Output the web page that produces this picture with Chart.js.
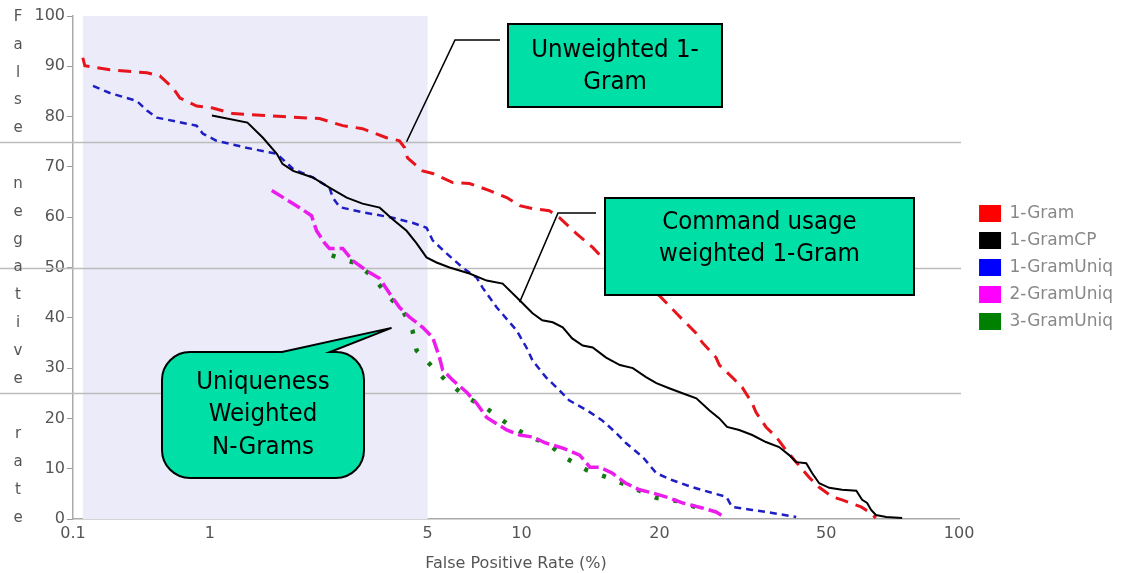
<!DOCTYPE html>
<html>
<head>
<meta charset="utf-8">
<script src="https://cdn.jsdelivr.net/npm/chart.js@4.4.0/dist/chart.umd.min.js"></script>
<style>
  html, body { margin: 0; padding: 0; background: #fff; }
  #wrap { width: 1133px; height: 573px; position: relative; }
</style>
</head>
<body>
<div id="wrap"><canvas id="main-chart"></canvas></div>
<script>
// x axis: the tick values and where each one sits along the axis (0 = left, 1 = right)
const xTicks = [0.1, 1, 5, 10, 20, 50, 100];
const xTickPos = [0, 0.1545, 0.4002, 0.5062, 0.6618, 0.8501, 1];
const refLines = [25, 50, 75];
const shadeRange = [0.118, 5];

const seriesNames = ['1-Gram', '1-GramCP', '1-GramUniq', '2-GramUniq', '3-GramUniq'];

// false positive rate (%) / false negative rate (%) for each curve
const fpr1Gram = [0.118, 0.122, 0.186, 0.347, 0.431, 0.537, 0.604, 0.80, 1.02, 1.185, 1.714, 2.25, 2.67, 3.09, 3.69,
  4.06, 4.22, 4.31, 4.82, 5.19, 6.02, 6.81, 7.90, 8.96, 9.86, 10.57, 11.5, 12.1, 13.2, 14.3, 15.2, 17.2, 20.0, 21.96,
  24.5, 25.3, 27.3, 27.8, 29.8, 31.5, 33.3, 34.0, 35.9, 38.0, 40.1, 42.4, 45.5, 48.1, 51.6, 54.3, 60.0, 62.5, 64.8];
const fnr1Gram = [91.7, 90.1, 89.3, 88.7, 88.1, 85.7, 83.7, 82.1, 81.7, 80.6, 80.0, 79.6, 78.2, 77.6, 75.8,
  75.2, 73.8, 71.8, 69.2, 68.7, 66.9, 66.7, 65.3, 63.9, 62.3, 61.7, 61.3, 59.9, 56.7, 54.0, 51.4, 48.4, 44.4, 40.9,
  36.9, 35.1, 32.1, 30.6, 28.2, 26.2, 23.0, 21.2, 18.3, 16.3, 13.7, 11.3, 8.3, 6.3, 4.4, 3.8, 2.4, 1.4, 0.2];

const fprCP = [1.015, 1.32, 1.48, 1.64, 1.71, 1.85, 2.14, 2.42, 2.75, 3.09, 3.51, 3.86, 4.28, 4.61, 4.96, 5.34, 5.88,
  6.81, 7.73, 8.70, 9.86, 10.57, 11.1, 11.7, 12.3, 12.9, 13.6, 14.3, 15.3, 16.4, 17.5, 18.7, 19.7, 21.1, 22.7, 24.5,
  26.3, 27.8, 29.0, 31.0, 33.3, 35.9, 38.6, 40.8, 42.4, 44.8, 46.3, 48.1, 50.8, 54.3, 58.5, 60.3, 61.9, 63.2, 64.8,
  68.4, 74.3];
const fnrCP = [80.2, 78.8, 75.8, 72.6, 70.6, 69.2, 67.9, 65.9, 63.9, 62.7, 61.9, 59.6, 57.3, 54.8, 52.0, 51.0, 50.0,
  48.8, 47.4, 46.8, 43.5, 40.9, 39.5, 39.1, 38.1, 35.9, 34.5, 34.1, 32.1, 30.6, 30.0, 28.2, 27.0, 26.0, 25.0, 24.0,
  21.6, 20.0, 18.3, 17.7, 16.7, 15.3, 14.3, 12.7, 11.3, 11.1, 9.1, 7.1, 6.2, 5.8, 5.6, 3.8, 3.2, 1.8, 0.8,
  0.4, 0.2];

const fprUniq1 = [0.140, 0.186, 0.293, 0.347, 0.41, 0.80, 0.889, 1.05, 1.31, 1.64, 1.85, 2.14, 2.42, 2.48, 2.61,
  3.09, 3.86, 4.47, 4.96, 5.19, 5.75, 6.47, 7.18, 7.50, 8.32, 9.64, 10.25, 10.57, 11.3, 12.1, 12.7, 13.9, 15.0, 16.1,
  16.9, 18.4, 19.7, 21.5, 24.0, 26.7, 28.9, 29.8, 33.3, 37.2, 42.4];
const fnrUniq1 = [86.1, 84.7, 83.1, 81.2, 79.8, 78.2, 76.6, 75.2, 73.8, 72.6, 69.6, 67.9, 65.9, 63.9, 62.0,
  61.0, 59.9, 58.9, 57.9, 55.4, 52.8, 50.0, 48.0, 46.0, 42.1, 37.5, 34.1, 31.5, 28.2, 25.6, 23.6, 21.6, 19.6, 17.1,
  15.1, 12.3, 9.1, 7.7, 6.3, 5.2, 4.4, 2.4, 1.8, 1.2, 0.4];

const fprUniq2 = [1.58, 1.94, 2.12, 2.20, 2.34, 2.42, 2.67, 2.87, 3.18, 3.51, 3.78, 4.06, 4.38, 4.82, 5.19, 5.46,
  5.59, 6.02, 6.67, 7.18, 7.73, 8.96, 9.86, 10.57, 11.3, 12.3, 13.4, 14.1, 14.8, 15.8, 16.9, 18.1, 19.3, 21.1, 22.7,
  25.3, 27.3, 28.6];
const fnrUniq2 = [65.3, 61.9, 60.3, 57.3, 54.8, 53.8, 53.8, 51.4, 49.4, 47.8, 44.8, 42.1, 40.1, 38.1, 36.1, 32.1,
  29.6, 27.6, 25.2, 23.0, 20.2, 17.7, 16.7, 16.3, 15.1, 14.1, 12.7, 10.3, 10.3, 9.1, 7.1, 5.8, 5.2, 4.2, 3.2,
  2.2, 1.4, 0.4];

const fprUniq3 = [2.46, 2.96, 3.38, 3.72, 4.16, 4.47, 4.61, 5.19, 5.75, 6.67, 7.73, 8.96, 10.25, 11.5, 12.5, 13.9,
  15.6, 17.5, 19.7, 22.7, 25.3];
const fnrUniq3 = [52.4, 50.8, 47.8, 44.4, 41.5, 37.5, 33.5, 30.2, 27.4, 24.2, 22.0, 19.0, 16.7, 14.7, 12.1, 9.7,
  8.1, 6.2, 4.2, 3.4, 1.8];

// styles
const lineColors = ['#e8141c', '#000000', '#1e1ec4', '#ec1cec', '#137a13'];
const swatchColors = ['#ff0000', '#000000', '#0000ff', '#ff00ff', '#008000'];
const lineWidths = [3, 2, 2.5, 3.5, 4.5];
const lineDashes = [[13, 8], [], [7, 5], [14, 5], [4, 15]];
const noteFill = '#00e0a6';
const noteFont = '25.5px "DejaVu Sans Condensed", "DejaVu Sans", sans-serif';

// callouts (box in pixels, tip of the leader in data units)
const notes = [
  { text: ['Unweighted 1-', 'Gram'], box: [508, 24, 722, 107], textY: 50, elbow: [[500, 40], [455, 40]], tip: [4.28, 75] },
  { text: ['Command usage', 'weighted 1-Gram'], box: [605, 198, 914, 295], textY: 222, elbow: [[596, 213], [558, 213]], tip: [9.86, 43.1] }
];
const bubble = { text: ['Uniqueness', 'Weighted', 'N-Grams'], box: [162, 352, 364, 478], textY: 382, radius: 28, tail: [282, 330], tip: [3.83, 38] };

function toDecimal(v) {
  const lv = Math.log10(v);
  let i = 0;
  while (i < xTicks.length - 2 && v > xTicks[i + 1]) i++;
  const a = Math.log10(xTicks[i]), b = Math.log10(xTicks[i + 1]);
  return xTickPos[i] + (lv - a) / (b - a) * (xTickPos[i + 1] - xTickPos[i]);
}
function fromDecimal(d) {
  let i = 0;
  while (i < xTickPos.length - 2 && d > xTickPos[i + 1]) i++;
  const a = Math.log10(xTicks[i]), b = Math.log10(xTicks[i + 1]);
  return Math.pow(10, a + (d - xTickPos[i]) / (xTickPos[i + 1] - xTickPos[i]) * (b - a));
}

class WarpedLogScale extends Chart.LogarithmicScale {
  buildTicks() {
    return xTicks.map(v => ({ value: v }));
  }
  getPixelForValue(value) {
    return this.getPixelForDecimal(toDecimal(value));
  }
  getValueForPixel(pixel) {
    return fromDecimal(this.getDecimalForPixel(pixel));
  }
}
WarpedLogScale.id = 'warpedLog';
WarpedLogScale.defaults = {};
Chart.register(WarpedLogScale);

function points(xs, ys) {
  return xs.map((x, i) => ({ x: x, y: ys[i] }));
}

const seriesData = [
  points(fpr1Gram, fnr1Gram),
  points(fprCP, fnrCP),
  points(fprUniq1, fnrUniq1),
  points(fprUniq2, fnrUniq2),
  points(fprUniq3, fnrUniq3)
];

// draw order: 1-Gram, 1-GramUniq, 1-GramCP, 3-GramUniq, 2-GramUniq on top
const drawOrder = [5, 3, 4, 1, 2];

let datasets = seriesNames.map((name, i) => ({
  label: name,
  data: seriesData[i],
  borderColor: lineColors[i],
  backgroundColor: swatchColors[i],
  borderWidth: lineWidths[i],
  borderDash: lineDashes[i],
  borderCapStyle: 'butt',
  pointRadius: 0,
  fill: false,
  tension: 0,
  order: drawOrder[i]
}));

const backdrop = {
  id: 'backdrop',
  beforeDatasetsDraw(chart) {
    const { ctx, chartArea: a, scales: { x, y } } = chart;
    ctx.save();
    ctx.fillStyle = '#ebebfa';
    const x0 = x.getPixelForValue(shadeRange[0]);
    const x1 = x.getPixelForValue(shadeRange[1]);
    ctx.fillRect(x0, a.top, x1 - x0, a.bottom - a.top);
    ctx.strokeStyle = '#bcbcbc';
    ctx.lineWidth = 1.5;
    refLines.forEach(v => {
      const py = Math.round(y.getPixelForValue(v)) + 0.5;
      ctx.beginPath();
      ctx.moveTo(0, py);
      ctx.lineTo(a.right + 2, py);
      ctx.stroke();
    });
    ctx.restore();
  }
};

const stackedTitle = {
  id: 'stackedTitle',
  afterDraw(chart) {
    const { ctx, chartArea: a } = chart;
    const chars = 'False negative rate'.split('');
    const step = (a.bottom - a.top - 2) / (chars.length - 1);
    ctx.save();
    ctx.fillStyle = '#555';
    ctx.font = '15px "DejaVu Sans", sans-serif';
    ctx.textAlign = 'center';
    ctx.textBaseline = 'middle';
    chars.forEach((c, i) => {
      if (c !== ' ') ctx.fillText(c, 18, a.top + 1 + i * step);
    });
    ctx.restore();
  }
};

function writeLines(ctx, lines, cx, y0) {
  ctx.fillStyle = '#000';
  ctx.font = noteFont;
  ctx.textAlign = 'center';
  ctx.textBaseline = 'middle';
  lines.forEach((t, i) => ctx.fillText(t, cx, y0 + i * 32.5));
}

const callouts = {
  id: 'callouts',
  afterDatasetsDraw(chart) {
    const { ctx, scales: { x, y } } = chart;
    ctx.save();
    ctx.lineWidth = 1.6;
    ctx.strokeStyle = '#000';
    notes.forEach(n => {
      const [x0, y0, x1, y1] = n.box;
      ctx.beginPath();
      ctx.moveTo(n.elbow[0][0], n.elbow[0][1]);
      ctx.lineTo(n.elbow[1][0], n.elbow[1][1]);
      ctx.lineTo(x.getPixelForValue(n.tip[0]), y.getPixelForValue(n.tip[1]));
      ctx.stroke();
      ctx.fillStyle = noteFill;
      ctx.fillRect(x0, y0, x1 - x0, y1 - y0);
      ctx.lineWidth = 2;
      ctx.strokeRect(x0, y0, x1 - x0, y1 - y0);
      ctx.lineWidth = 1.6;
      writeLines(ctx, n.text, (x0 + x1) / 2, n.textY);
    });

    const b = bubble;
    const [x0, y0, x1, y1] = b.box;
    const r = b.radius;
    const tx = x.getPixelForValue(b.tip[0]), ty = y.getPixelForValue(b.tip[1]);
    ctx.beginPath();
    ctx.moveTo(x0 + r, y0);
    ctx.lineTo(b.tail[0], y0);
    ctx.lineTo(tx, ty);
    ctx.lineTo(b.tail[1], y0);
    ctx.lineTo(x1 - r, y0);
    ctx.arcTo(x1, y0, x1, y0 + r, r);
    ctx.lineTo(x1, y1 - r);
    ctx.arcTo(x1, y1, x1 - r, y1, r);
    ctx.lineTo(x0 + r, y1);
    ctx.arcTo(x0, y1, x0, y1 - r, r);
    ctx.lineTo(x0, y0 + r);
    ctx.arcTo(x0, y0, x0 + r, y0, r);
    ctx.closePath();
    ctx.fillStyle = noteFill;
    ctx.fill();
    ctx.lineWidth = 2;
    ctx.stroke();
    writeLines(ctx, b.text, (x0 + x1) / 2, b.textY);
    ctx.restore();
  }
};

// push the legend a little away from the plot
const legendNudge = {
  id: 'legendNudge',
  afterLayout(chart) {
    chart.legend.left += 10;
    chart.legend.right += 10;
  }
};

Chart.defaults.font.family = '"DejaVu Sans", sans-serif';

let ctx = document.getElementById('main-chart');

let myChart = new Chart(ctx, {
  type: 'line',
  data: { datasets: datasets },
  options: {
    responsive: true,
    maintainAspectRatio: false,
    animation: false,
    layout: { padding: { top: 16, right: 20, left: 0, bottom: 0 } },
    scales: {
      x: {
        type: 'warpedLog',
        min: 0.1,
        max: 100,
        grid: { display: false, drawTicks: false },
        border: { color: '#aaa', width: 1.5 },
        ticks: {
          autoSkip: false,
          maxRotation: 0,
          color: '#555',
          font: { size: 16 },
          padding: 5,
          callback: v => String(v)
        },
        title: {
          display: true,
          text: 'False Positive Rate (%)',
          color: '#555',
          font: { size: 16 },
          padding: { top: 9, bottom: 0 }
        },
        afterFit: s => { s.height = 54; }
      },
      y: {
        min: 0,
        max: 100,
        ticks: { stepSize: 10, color: '#555', font: { size: 16 }, padding: 2 },
        grid: { drawOnChartArea: false, tickLength: 6, color: '#999' },
        border: { color: '#aaa', width: 1.5 },
        afterFit: s => { s.width = 73; }
      }
    },
    plugins: {
      legend: {
        position: 'right',
        fullSize: false,
        labels: {
          boxWidth: 22,
          boxHeight: 17,
          padding: 10,
          color: '#888',
          font: { size: 17 },
          sort: (a, b) => a.datasetIndex - b.datasetIndex,
          generateLabels(chart) {
            const items = Chart.defaults.plugins.legend.labels.generateLabels(chart);
            return items.map(it => Object.assign(it, {
              fillStyle: swatchColors[it.datasetIndex],
              strokeStyle: swatchColors[it.datasetIndex],
              lineDash: [],
              lineWidth: 0
            }));
          }
        }
      },
      tooltip: { enabled: false }
    }
  },
  plugins: [backdrop, stackedTitle, callouts, legendNudge]
});
</script>
</body>
</html>
